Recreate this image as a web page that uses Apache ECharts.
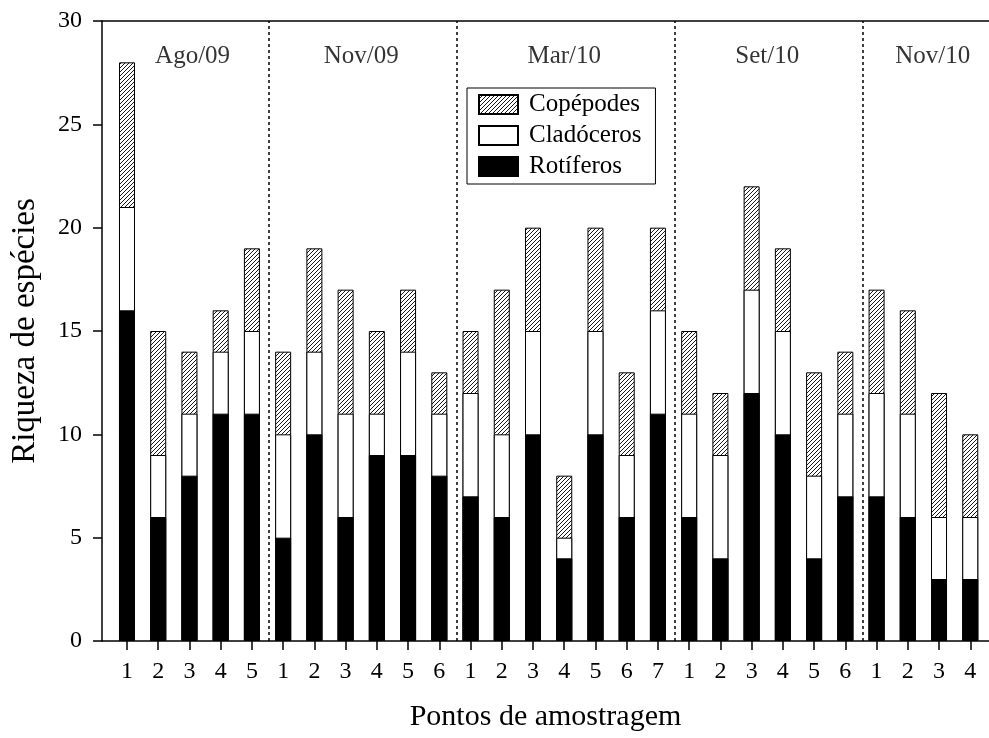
<!DOCTYPE html>
<html>
<head>
<meta charset="utf-8">
<script src="https://cdn.jsdelivr.net/npm/echarts@6/dist/echarts.min.js"></script>
<style>
  html, body { margin: 0; padding: 0; background: #fff; }
  #main { width: 989px; height: 738px; }
</style>
</head>
<body>
<div id="main"></div>
<script>
// campanhas e pontos
const groups = ['Ago/09', 'Nov/09', 'Mar/10', 'Set/10', 'Nov/10'];
const groupCenters = [3.1, 8.5, 15, 21.5, 26.8];
const separators = [5.55, 11.55, 18.55, 24.55];
const pointLabels = ['1','2','3','4','5', '1','2','3','4','5','6', '1','2','3','4','5','6','7',
                     '1','2','3','4','5','6', '1','2','3','4'];

// riqueza por grupo
const rotiferos  = [16,6,8,11,11, 5,10,6,9,9,8, 7,6,10,4,10,6,11, 6,4,12,10,4,7, 7,6,3,3];
const cladoceros = [5,3,3,3,4, 5,4,5,2,5,3, 5,4,5,1,5,3,5, 5,5,5,5,4,4, 5,5,3,3];
const copepodes  = [7,6,3,2,4, 4,5,6,4,3,2, 3,7,5,3,5,4,4, 4,3,5,4,5,3, 5,5,6,4];

const FONT = 'Liberation Serif';
const positions = pointLabels.map((_, i) => i + 1);
const XMIN = 0.2, XMAX = 28.6;

// padrão hachurado para copépodes
const tile = document.createElement('canvas');
tile.width = 4; tile.height = 4;
const ctx = tile.getContext('2d');
ctx.fillStyle = '#fff';
ctx.fillRect(0, 0, 4, 4);
ctx.strokeStyle = '#000';
ctx.lineWidth = 0.9;
ctx.beginPath();
ctx.moveTo(0, 4); ctx.lineTo(4, 0);
ctx.moveTo(-1, 1); ctx.lineTo(1, -1);
ctx.moveTo(3, 5); ctx.lineTo(5, 3);
ctx.stroke();

const chart = echarts.init(document.getElementById('main'));

// barras empilhadas: cada camada é desenhada até o seu total acumulado
const topRot = rotiferos.map(v => v);
const topClad = rotiferos.map((v, i) => v + cladoceros[i]);
const topCop = topClad.map((v, i) => v + copepodes[i]);

const toXY = arr => arr.map((v, i) => [positions[i], v]);
const barStyle = fill => ({ color: fill, borderColor: '#000', borderWidth: 1 });

const option = {
  animation: false,
  grid: { left: 102, right: 0, top: 21, bottom: 97 },
  legend: {
    data: ['Copépodes', 'Cladóceros', 'Rotíferos'],
    orient: 'vertical',
    left: 467, top: 88,
    padding: [4, 14, 5, 11],
    itemWidth: 39, itemHeight: 19, itemGap: 6,
    icon: 'rect',
    borderColor: '#000', borderWidth: 1,
    selectedMode: false,
    textStyle: { fontFamily: FONT, fontSize: 25, color: '#000', padding: [0, 0, 0, 6] }
  },
  xAxis: [{
    type: 'value', min: XMIN, max: XMAX,
    name: 'Pontos de amostragem', nameLocation: 'middle', nameGap: 61,
    nameTextStyle: { fontFamily: FONT, fontSize: 30, color: '#000' },
    axisLine: { lineStyle: { color: '#000', width: 1.5 } },
    axisTick: { customValues: positions, length: 9, lineStyle: { color: '#000', width: 1.5 } },
    axisLabel: {
      customValues: positions, margin: 19,
      fontFamily: FONT, fontSize: 24, color: '#000',
      formatter: v => pointLabels[Math.round(v) - 1] || ''
    },
    splitLine: { show: false }
  }, {
    type: 'value', min: XMIN, max: XMAX, position: 'top',
    axisLine: { show: true, lineStyle: { color: '#000', width: 1.5 } },
    axisTick: { show: false }, axisLabel: { show: false }, splitLine: { show: false }
  }],
  yAxis: {
    type: 'value', min: 0, max: 30, interval: 5,
    name: 'Riqueza de espécies', nameLocation: 'middle', nameGap: 60,
    nameTextStyle: { fontFamily: FONT, fontSize: 33, color: '#000' },
    axisLine: { show: true, lineStyle: { color: '#000', width: 1.5 } },
    axisTick: { show: true, length: 9, lineStyle: { color: '#000', width: 1.5 } },
    axisLabel: { margin: 20, fontFamily: FONT, fontSize: 24, color: '#000' },
    splitLine: { show: false }
  },
  series: [
    {
      name: 'Copépodes', type: 'bar', barWidth: 16, barGap: '-100%',
      data: toXY(topCop), itemStyle: barStyle({ image: tile, repeat: 'repeat' }),
      emphasis: { disabled: true },
      markLine: {
        silent: true, symbol: 'none', label: { show: false },
        lineStyle: { color: '#000', width: 1.5, type: [3, 3] },
        data: separators.map(x => ({ xAxis: x }))
      }
    },
    {
      name: 'Cladóceros', type: 'bar', barWidth: 16, barGap: '-100%',
      data: toXY(topClad), itemStyle: barStyle('#fff'),
      emphasis: { disabled: true }
    },
    {
      name: 'Rotíferos', type: 'bar', barWidth: 16, barGap: '-100%',
      data: toXY(topRot), itemStyle: barStyle('#000'),
      emphasis: { disabled: true }
    },
    {
      type: 'scatter', symbolSize: 0, silent: true,
      data: groupCenters.map(x => [x, 28.3]),
      label: {
        show: true, position: 'inside',
        fontFamily: FONT, fontSize: 25, color: '#000',
        formatter: p => groups[p.dataIndex]
      }
    }
  ]
};

chart.setOption(option);
</script>
</body>
</html>
